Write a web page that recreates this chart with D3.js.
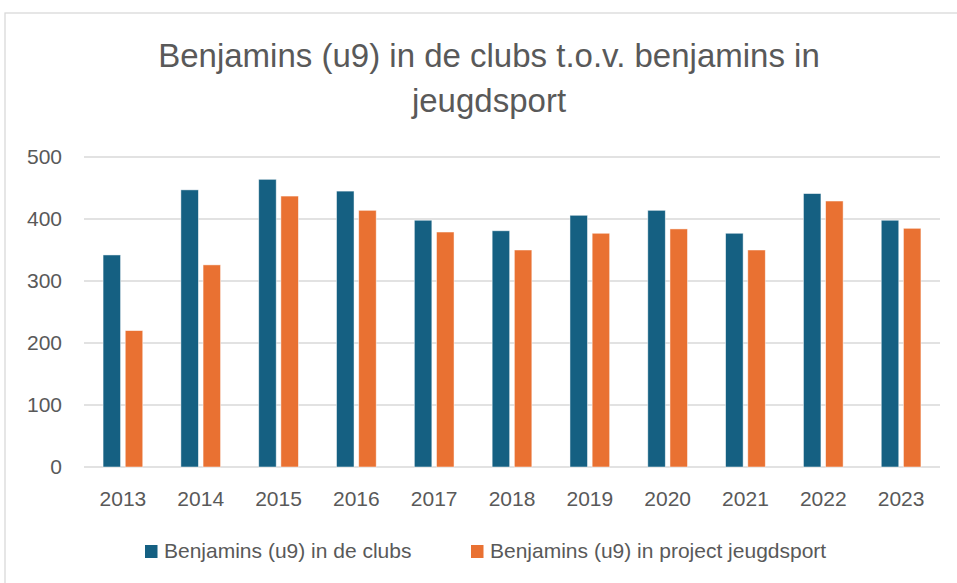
<!DOCTYPE html>
<html><head><meta charset="utf-8">
<script src="https://cdn.jsdelivr.net/npm/d3@7"></script>
<style>body{margin:0;background:#fff}svg{display:block}</style>
</head><body>
<svg id="c" width="957" height="583"></svg>
<script>
const years = ["2013","2014","2015","2016","2017","2018","2019","2020","2021","2022","2023"];
const clubs = [342, 447, 464, 445, 398, 381, 406, 414, 377, 441, 398];
const jeugdsport = [220, 326, 437, 414, 379, 350, 377, 384, 350, 429, 385];
const seriesNames = ["Benjamins (u9) in de clubs", "Benjamins (u9) in project jeugdsport"];
const yTicks = [0, 100, 200, 300, 400, 500];
const titleLines = ["Benjamins (u9) in de clubs t.o.v. benjamins in", "jeugdsport"];

const colors = ["#156082", "#E97132"];
const svg = d3.select("#c");
const m = {left: 84, right: 940, top: 157, bottom: 467};
const font = "Liberation Sans, Arial, sans-serif";

// chart frame (cropped on right/bottom)
svg.append("rect").attr("x", 5).attr("y", 13).attr("width", 1000).attr("height", 1000)
  .attr("fill", "#fff").attr("stroke", "#d9d9d9").attr("stroke-width", 1.3);

const x = d3.scaleBand().domain(years).range([m.left, m.right]);
const y = d3.scaleLinear().domain([0, 500]).range([m.bottom, m.top]);

// gridlines
svg.append("g").selectAll("line").data(yTicks).join("line")
  .attr("x1", m.left).attr("x2", m.right)
  .attr("y1", d => y(d)).attr("y2", d => y(d))
  .attr("stroke", "#d9d9d9").attr("stroke-width", 1.5);

// y axis labels
const yAxis = d3.axisLeft(y).tickValues(yTicks).tickSize(0).tickPadding(0);
const gy = svg.append("g").attr("transform", `translate(62,0)`).call(yAxis);
gy.select(".domain").remove();
gy.selectAll("text").attr("font-family", font)
  .attr("font-size", 21).attr("fill", "#595959");

// x axis labels
const xAxis = d3.axisBottom(x).tickSize(0).tickPadding(0);
const gx = svg.append("g").attr("transform", `translate(0,${m.bottom + 24})`).call(xAxis);
gx.select(".domain").remove();
gx.selectAll("text").attr("font-family", font)
  .attr("font-size", 21).attr("fill", "#595959");

// bars
const bw = x.bandwidth() * 0.225;
const gap = x.bandwidth() * 0.06;
const data = years.map((yr, i) => ({yr, vals: [clubs[i], jeugdsport[i]]}));
const groups = svg.append("g").selectAll("g").data(data).join("g");
groups.selectAll("rect").data(d => d.vals.map((v, k) => ({yr: d.yr, v, k}))).join("rect")
  .attr("x", d => x(d.yr) + x.bandwidth() / 2 + (d.k === 0 ? -gap / 2 - bw : gap / 2))
  .attr("width", bw)
  .attr("y", d => y(d.v))
  .attr("height", d => y(0) - y(d.v))
  .attr("fill", d => colors[d.k])
  .attr("stroke", "#ffffff").attr("stroke-opacity", 0.6).attr("stroke-width", 0.8);

// title
svg.append("g").selectAll("text").data(titleLines).join("text")
  .attr("x", 489).attr("y", (d, i) => 67 + i * 45)
  .attr("text-anchor", "middle")
  .attr("font-family", font)
  .attr("font-size", 33).attr("fill", "#595959")
  .text(d => d);

// legend
const legX = [145, 471];
const lg = svg.append("g").selectAll("g").data(seriesNames).join("g")
  .attr("transform", (d, i) => `translate(${legX[i]},545)`);
lg.append("rect").attr("width", 12.5).attr("height", 13).attr("fill", (d, i) => colors[i]);
lg.append("text").attr("x", 19).attr("y", 13)
  .attr("font-family", font)
  .attr("font-size", 21).attr("fill", "#595959").text(d => d);
</script>
</body></html>
